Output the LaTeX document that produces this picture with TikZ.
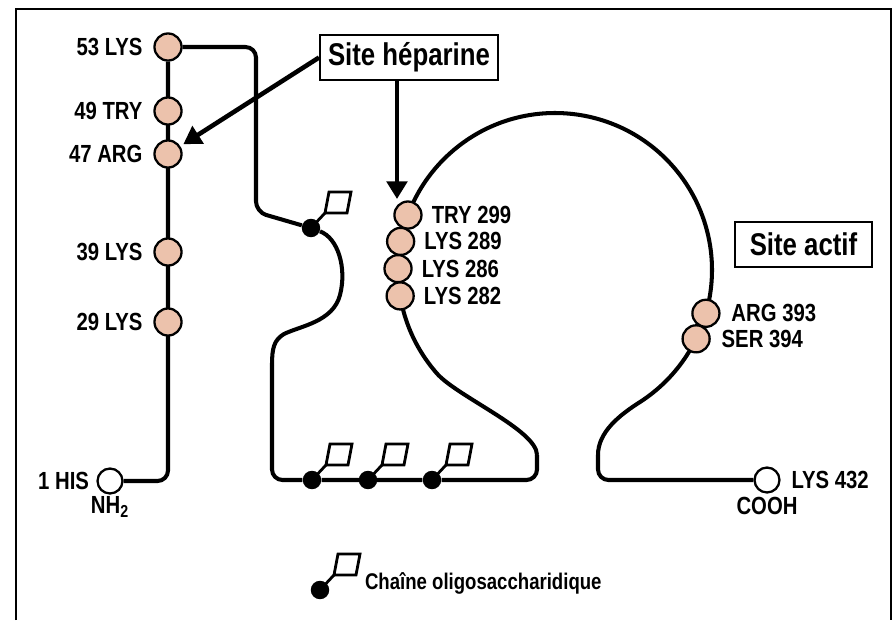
\documentclass[tikz,border=0pt]{standalone}
\usepackage{fontspec}
\setmainfont[FakeStretch=0.82]{Liberation Sans}
\usetikzlibrary{positioning,backgrounds,arrows.meta,calc}
\definecolor{respink}{RGB}{236,194,172}
\tikzset{
  res/.style={circle, draw, line width=1.3pt, fill=respink, minimum size=15.4pt, inner sep=0pt},
  term/.style={circle, draw, line width=1.3pt, fill=white, minimum size=14.2pt, inner sep=0pt},
  gdot/.style={circle, fill=black, minimum size=10.5pt, inner sep=0pt},
  lbl/.style={font=\fontsize{14.1}{16}\selectfont\bfseries, inner sep=0pt},
  legtext/.style={font=\fontsize{12.9}{15}\selectfont\bfseries, inner sep=0pt},
  sitebox/.style={draw, line width=1.1pt, font=\fontsize{17.9}{20}\selectfont\bfseries, minimum height=25.6pt, inner sep=0pt},
  chain/.style={line width=2.3pt},
  sugarline/.style={line width=1.6pt, line join=miter},
  bigarrow/.style={line width=2.6pt, -{Triangle[length=10pt,width=11.5pt]}, shorten >=2pt},
}
\newcommand\glycan[1]{%
  \draw[sugarline] (#1.center) -- ++(14,-15);
  \draw[sugarline] ([shift={(14,-15)}]#1.center) -- ++(22,0) -- ++(4,-21) -- ++(-22,0) -- cycle;}
\begin{document}
\begin{tikzpicture}[x=0.02cm, y=-0.02cm]
	\useasboundingbox (0,0) rectangle (896,620);
	\draw[line width=1.1pt] (16,620) -- (16,9) -- (891,9) -- (891,620);

	% N-terminal part
	\node[term] (his) at (110,481) {};
	\node[res] (lys29) at (168,322) {};
	\node[res] (lys39) at (168,252) {};
	\node[res] (arg47) at (168,154) {};
	\node[res] (try49) at (168,111) {};
	\node[res] (lys53) at (168,47) {};
	\node[lbl, left=4pt of his] {1 HIS};
	\node[lbl, below=1pt of his] {NH\textsubscript{2}};
	\node[lbl, left=6pt of lys29] {29 LYS};
	\node[lbl, left=6pt of lys39] {39 LYS};
	\node[lbl, left=6pt of arg47] {47 ARG};
	\node[lbl, left=6pt of try49] {49 TRY};
	\node[lbl, left=6pt of lys53] {53 LYS};

	% big loop
	\coordinate (c) at (555,270);
	\node[res] (try299) at ($(c)+(200.5:157)$) {};
	\node[res] (lys289) at ($(c)+(190.5:157)$) {};
	\node[res] (lys286) at ($(c)+(180.5:157)$) {};
	\node[res] (lys282) at ($(c)+(170.5:157)$) {};
	\node[res] (arg393) at ($(c)+(16:157)$) {};
	\node[res] (ser394) at ($(c)+(26:157)$) {};
	\node[lbl, right=5pt of try299] {TRY 299};
	\node[lbl, right=5pt of lys289] {LYS 289};
	\node[lbl, right=5pt of lys286] {LYS 286};
	\node[lbl, right=5pt of lys282] {LYS 282};
	\node[lbl, right=6pt of arg393] {ARG 393};
	\node[lbl, right=6pt of ser394] {SER 394};

	% C-terminal end
	\node[term] (lys432) at (767,480) {};
	\node[lbl, right=6pt of lys432] {LYS 432};
	\node[lbl, below=2pt of lys432] {COOH};

	% oligosaccharide chains
	\node[gdot] (g1) at (311,228) {};
	\node[gdot] (g2) at (312,480) {};
	\node[gdot] (g3) at (368,480) {};
	\node[gdot] (g4) at (432,480) {};
	\glycan{g1}
	\glycan{g2}
	\glycan{g3}
	\glycan{g4}

	\coordinate (t1) at (256,47);
	\coordinate (t2) at (256,212);
	\coordinate (b0) at (272,365);
	\coordinate (n2) at (537,455);
	\coordinate (n3) at (598,455);
	\coordinate (a1) at ($(c)+(139:157)$);

	\begin{scope}[on background layer]
		\draw[chain, rounded corners=6pt] (his) -| (lys53);
		\draw[chain, rounded corners=6pt] (lys53) -- (t1) -- (t2) -- (g1);
		\draw[chain] (g1) .. controls (338,238) and (347,268) .. (340,295)
			.. controls (333,322) and (300,326) .. (284,334)
			.. controls (274,340) and (272,348) .. (b0);
		\draw[chain, rounded corners=6pt] (b0) |- (g2) -- (g4) -| (n2);
		\draw[chain] (n2) .. controls (537,430) and (456,396) .. (a1)
			arc[start angle=139, end angle=417, radius=157]
			.. controls (619.5,415) and (598,432) .. (n3);
		\draw[chain, rounded corners=6pt] (n3) |- (lys432);
	\end{scope}

	% sites
	\node[sitebox, minimum width=101.3pt] (hep) at (409,57.5) {Site héparine};
	\node[sitebox, minimum width=78pt] (act) at (803.5,244.5) {Site actif};
	\coordinate (heptip) at (397,199);
	\draw[bigarrow] (hep.west) -- (arg47);
	\draw[bigarrow, shorten >=0pt] (hep.south -| heptip) -- (heptip);

	% legend
	\node[gdot] (legdot) at (320,590) {};
	\glycan{legdot}
	\node[legtext, right=20pt of legdot, yshift=4pt] {Chaîne oligosaccharidique};
\end{tikzpicture}
\end{document}
